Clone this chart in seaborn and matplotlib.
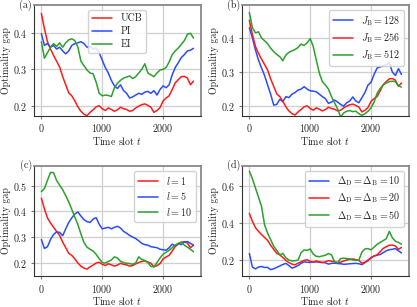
import numpy as np
import pandas as pd
import matplotlib
matplotlib.use('Agg')
import matplotlib.pyplot as plt
import seaborn as sns

# time slots (every 50 slots)
t = np.arange(0, 2501, 50)

# baseline configuration (UCB, J_B=256, l=1, Delta=20)
base = [0.452, 0.41, 0.375, 0.355, 0.338, 0.322, 0.306, 0.28, 0.258, 0.236,
        0.228, 0.214, 0.198, 0.186, 0.178, 0.174, 0.183, 0.19, 0.198, 0.201,
        0.193, 0.188, 0.195, 0.191, 0.186, 0.19, 0.197, 0.193, 0.191, 0.186,
        0.188, 0.195, 0.2, 0.204, 0.206, 0.202, 0.197, 0.183, 0.188, 0.196,
        0.214, 0.222, 0.228, 0.245, 0.263, 0.272, 0.28, 0.281, 0.276, 0.258,
        0.268]

# (a) acquisition functions
pi = [0.397, 0.365, 0.37, 0.36, 0.365, 0.355, 0.36, 0.35, 0.342, 0.35,
      0.365, 0.37, 0.372, 0.375, 0.37, 0.36, 0.362, 0.355, 0.358, 0.345,
      0.325, 0.305, 0.29, 0.27, 0.255, 0.248, 0.258, 0.242, 0.235, 0.222,
      0.225, 0.23, 0.235, 0.232, 0.238, 0.24, 0.235, 0.242, 0.23, 0.245,
      0.255, 0.25, 0.258, 0.285, 0.305, 0.318, 0.332, 0.34, 0.35, 0.352,
      0.357]
ei = [0.375, 0.33, 0.345, 0.36, 0.37, 0.362, 0.372, 0.36, 0.372, 0.38,
      0.383, 0.378, 0.36, 0.322, 0.31, 0.298, 0.29, 0.288, 0.265, 0.235,
      0.228, 0.23, 0.229, 0.226, 0.25, 0.262, 0.27, 0.276, 0.279, 0.282,
      0.275, 0.28, 0.29, 0.3, 0.315, 0.29, 0.285, 0.28, 0.29, 0.298,
      0.3, 0.305, 0.32, 0.34, 0.35, 0.358, 0.368, 0.378, 0.395, 0.398,
      0.385]

# (b) J_B
jb128 = [0.43, 0.4, 0.365, 0.335, 0.312, 0.29, 0.262, 0.235, 0.203, 0.205,
         0.22, 0.213, 0.228, 0.225, 0.235, 0.24, 0.247, 0.25, 0.257, 0.25,
         0.245, 0.244, 0.242, 0.235, 0.228, 0.222, 0.208, 0.212, 0.218, 0.212,
         0.205, 0.2, 0.21, 0.215, 0.227, 0.215, 0.21, 0.225, 0.24, 0.262,
         0.27, 0.293, 0.312, 0.315, 0.318, 0.322, 0.327, 0.3, 0.29, 0.31,
         0.293]
jb512 = [0.475, 0.43, 0.415, 0.418, 0.4, 0.392, 0.383, 0.37, 0.36, 0.352,
         0.345, 0.333, 0.35, 0.358, 0.362, 0.366, 0.372, 0.382, 0.378, 0.386,
         0.398, 0.375, 0.335, 0.297, 0.272, 0.262, 0.25, 0.228, 0.21, 0.192,
         0.168, 0.18, 0.185, 0.187, 0.184, 0.185, 0.178, 0.173, 0.178, 0.185,
         0.195, 0.212, 0.238, 0.252, 0.262, 0.268, 0.272, 0.273, 0.272, 0.26,
         0.256]

# (c) l
l5 = [0.29, 0.255, 0.262, 0.29, 0.31, 0.32, 0.318, 0.305, 0.332, 0.357,
      0.375, 0.39, 0.398, 0.382, 0.368, 0.36, 0.357, 0.37, 0.376, 0.35,
      0.332, 0.335, 0.338, 0.332, 0.338, 0.342, 0.335, 0.322, 0.315, 0.306,
      0.3, 0.294, 0.285, 0.275, 0.27, 0.268, 0.262, 0.26, 0.258, 0.252,
      0.25, 0.248, 0.258, 0.272, 0.265, 0.275, 0.27, 0.28, 0.282, 0.275,
      0.268]
l10 = [0.478, 0.49, 0.522, 0.553, 0.552, 0.522, 0.503, 0.485, 0.462, 0.437,
       0.408, 0.378, 0.348, 0.312, 0.278, 0.26, 0.252, 0.245, 0.232, 0.215,
       0.2, 0.198, 0.204, 0.21, 0.222, 0.218, 0.205, 0.2, 0.197, 0.196,
       0.193, 0.198, 0.222, 0.212, 0.208, 0.2, 0.185, 0.183, 0.2, 0.218,
       0.232, 0.24, 0.248, 0.258, 0.268, 0.275, 0.28, 0.268, 0.26, 0.252,
       0.242]

# (d) Delta_D = Delta_B
d10 = [0.235, 0.162, 0.152, 0.162, 0.165, 0.16, 0.16, 0.148, 0.153, 0.16,
       0.168, 0.176, 0.182, 0.17, 0.156, 0.162, 0.17, 0.182, 0.19, 0.188,
       0.187, 0.19, 0.19, 0.188, 0.187, 0.185, 0.178, 0.182, 0.183, 0.181,
       0.18, 0.177, 0.178, 0.18, 0.181, 0.182, 0.18, 0.175, 0.186, 0.2,
       0.21, 0.222, 0.226, 0.23, 0.24, 0.25, 0.256, 0.258, 0.262, 0.25,
       0.238]
d50 = [0.68, 0.64, 0.59, 0.54, 0.49, 0.39, 0.345, 0.31, 0.275, 0.252,
       0.228, 0.236, 0.212, 0.2, 0.195, 0.196, 0.2, 0.24, 0.255, 0.252,
       0.26, 0.232, 0.22, 0.218, 0.222, 0.226, 0.235, 0.228, 0.19, 0.185,
       0.208, 0.21, 0.208, 0.206, 0.2, 0.198, 0.2, 0.243, 0.26, 0.262,
       0.255, 0.27, 0.285, 0.295, 0.305, 0.315, 0.355, 0.32, 0.302, 0.295,
       0.286]

RED = '#ff1a1a'
BLUE = '#2a4bff'
GREEN = '#2ca02c'
FS = 7.2

sns.set_theme(style='whitegrid')
plt.rcParams['font.family'] = 'serif'
plt.rcParams['font.serif'] = ['cmr10', 'DejaVu Serif']
plt.rcParams['mathtext.fontset'] = 'cm'
plt.rcParams['axes.unicode_minus'] = False
plt.rcParams['axes.formatter.use_mathtext'] = True
plt.rcParams['font.size'] = FS

fig, axes = plt.subplots(2, 2, figsize=(4.17, 3.07), dpi=100)
fig.subplots_adjust(left=0.081, right=0.981, top=0.984, bottom=0.1,
                    wspace=0.243, hspace=0.45)

panels = [
    ('(a)', [(base, RED, 'UCB'), (pi, BLUE, 'PI'), (ei, GREEN, 'EI')],
     'upper center', (0.174, 0.475), [0.2, 0.3, 0.4]),
    ('(b)', [(jb128, BLUE, r'$J_{\mathrm{B}} = 128$'),
             (base, RED, r'$J_{\mathrm{B}} = 256$'),
             (jb512, GREEN, r'$J_{\mathrm{B}} = 512$')],
     'upper right', (0.172, 0.497), [0.2, 0.3, 0.4]),
    ('(c)', [(base, RED, r'$l = 1$'), (l5, BLUE, r'$l = 5$'),
             (l10, GREEN, r'$l = 10$')],
     'upper right', (0.146, 0.58), [0.2, 0.3, 0.4, 0.5]),
    ('(d)', [(d10, BLUE, r'$\Delta_{\mathrm{D}} = \Delta_{\mathrm{B}} = 10$'),
             (base, RED, r'$\Delta_{\mathrm{D}} = \Delta_{\mathrm{B}} = 20$'),
             (d50, GREEN, r'$\Delta_{\mathrm{D}} = \Delta_{\mathrm{B}} = 50$')],
     'upper right', (0.112, 0.711), [0.2, 0.4, 0.6]),
]

for ax, (tag, series, loc, ylim, yt) in zip(axes.flat, panels):
    for vals, col, lab in series:
        sns.lineplot(x=t, y=vals, ax=ax, color=col, label=lab, linewidth=1.1)
    ax.set_xlim(-125, 2625)
    ax.set_ylim(*ylim)
    ax.set_xticks([0, 1000, 2000])
    ax.set_yticks(yt)
    ax.set_xlabel('Time slot $t$', fontsize=FS, labelpad=0.5)
    ax.set_ylabel('Optimality gap', fontsize=FS, labelpad=1.5)
    ax.tick_params(labelsize=FS, pad=2, length=2.5, width=0.8,
                   color='#777777', bottom=True, left=True)
    ax.grid(True, color='#cfcfcf', linewidth=0.9)
    for side in ['left', 'bottom']:
        ax.spines[side].set_color('#333333')
        ax.spines[side].set_linewidth(0.8)
    for side in ['top', 'right']:
        ax.spines[side].set_color('#888888')
        ax.spines[side].set_linewidth(1.3)
    ax.legend(loc=loc, fontsize=FS, frameon=True, framealpha=0.85,
              edgecolor='#cccccc', borderpad=0.4, labelspacing=0.35,
              handlelength=2.0)
    ax.text(-0.01, 1.0, tag, transform=ax.transAxes, ha='right', va='center',
            fontsize=FS)

fig.savefig('out.png', dpi=100)
